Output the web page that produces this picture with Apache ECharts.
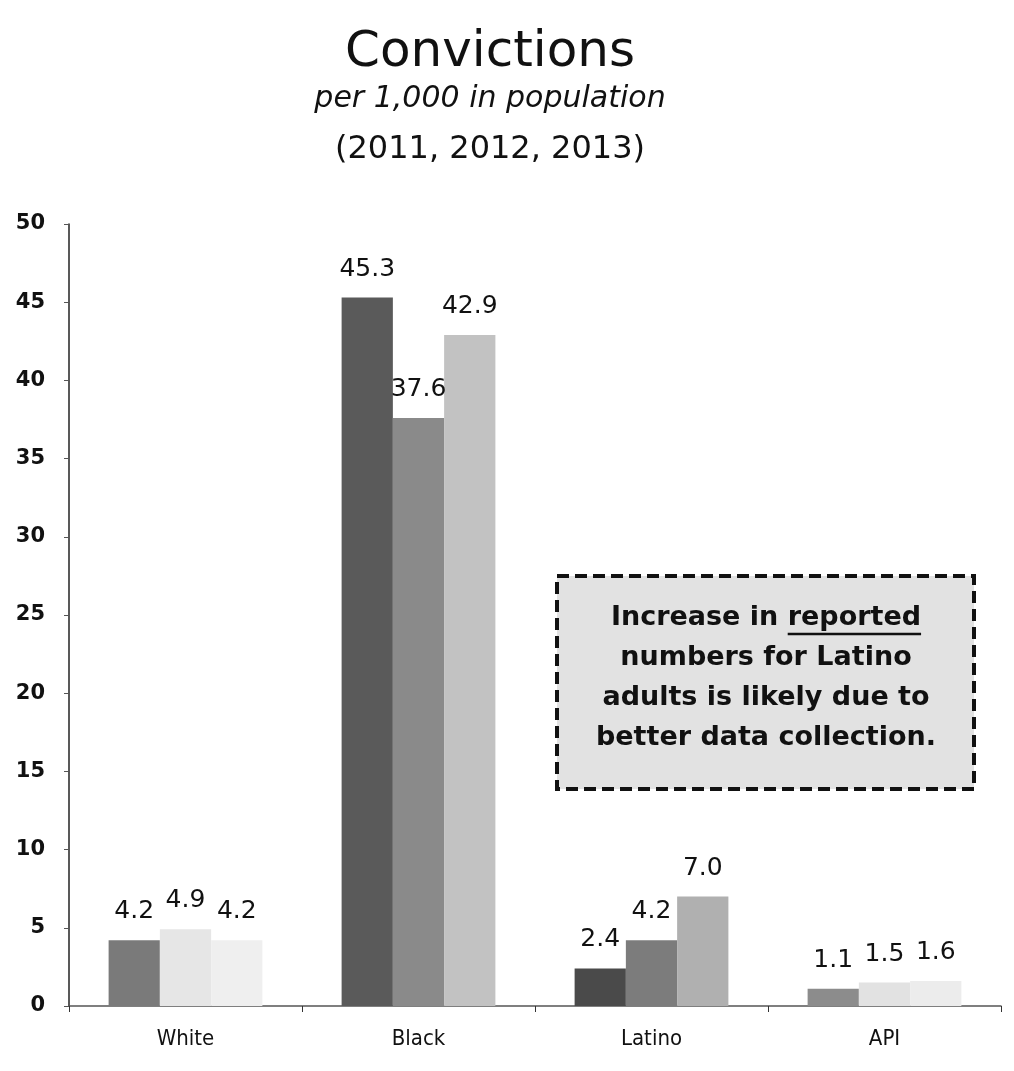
<!DOCTYPE html>
<html>
<head>
<meta charset="utf-8">
<script src="https://cdn.jsdelivr.net/npm/echarts@6/dist/echarts.min.js"></script>
<style>html,body{margin:0;padding:0;background:#fff}#c{width:1014px;height:1071px}</style>
</head>
<body>
<div id="c"></div>
<script>
const categories = ['White', 'Black', 'Latino', 'API'];
const years = ['2011', '2012', '2013'];
const values2011 = [4.2, 45.3, 2.4, 1.1];
const values2012 = [4.9, 37.6, 4.2, 1.5];
const values2013 = [4.2, 42.9, 7.0, 1.6];
const yTicks = [0, 5, 10, 15, 20, 25, 30, 35, 40, 45, 50];
const titleText = 'Convictions';
const subtitleText = 'per 1,000 in population';
const notePrefix = 'Increase in ';
const noteUnderlined = 'reported';
const noteLines = ['numbers for Latino', 'adults is likely due to', 'better data collection.'];

// shade per bar as it appears in the scanned halftone
const shades = [
  ['#7a7a7a', '#5a5a5a', '#4a4a4a', '#8c8c8c'],
  ['#e6e6e6', '#8a8a8a', '#7c7c7c', '#e2e2e2'],
  ['#efefef', '#c2c2c2', '#b0b0b0', '#ececec']
];

const FONT = '"DejaVu Sans", sans-serif';
const NOTE_FONT = 'bold 27px "DejaVu Sans"';
const cv = document.createElement('canvas').getContext('2d');
cv.font = NOTE_FONT;
const wPre = cv.measureText(notePrefix).width;
const wU = cv.measureText(noteUnderlined).width;
const noteCx = 766;
const uStart = noteCx - (wPre + wU) / 2 + wPre;

const chart = echarts.init(document.getElementById('c'));
const seriesVals = [values2011, values2012, values2013];

const noteStyle = { fontFamily: FONT, fontSize: 27, fontWeight: 'bold', fill: '#111', align: 'center', verticalAlign: 'middle' };

chart.setOption({
  backgroundColor: '#fff',
  animation: false,
  grid: { left: 69, right: 13, top: 224, bottom: 65, containLabel: false },
  xAxis: {
    type: 'category',
    data: categories,
    axisLine: { lineStyle: { color: '#555', width: 1.5 } },
    axisTick: { show: true, length: 6, lineStyle: { color: '#333' } },
    axisLabel: { fontFamily: '"DejaVu Sans Condensed", "DejaVu Sans", sans-serif', fontSize: 22, color: '#111', margin: 22 }
  },
  yAxis: {
    type: 'value',
    min: 0, max: 50, interval: 5,
    axisLine: { show: true, lineStyle: { color: '#222', width: 1.5 } },
    axisTick: { show: true, length: 5, lineStyle: { color: '#555' } },
    splitLine: { show: false },
    axisLabel: { fontFamily: FONT, fontSize: 21, color: '#111', margin: 24, fontWeight: 'bold',
      formatter: v => yTicks.includes(v) ? String(v) : '' }
  },
  series: seriesVals.map((vals, si) => ({
    name: years[si],
    type: 'bar',
    data: vals,
    barWidth: '22%',
    barGap: '0%',
    itemStyle: { color: p => shades[si][p.dataIndex] },
    label: { show: true, position: 'top', distance: 16, fontFamily: FONT, fontSize: 25, color: '#111',
      formatter: p => p.value.toFixed(1) }
  })),
  graphic: [
    { type: 'text', x: 490, y: 53, style: { text: titleText, fontFamily: FONT, fontSize: 50, fill: '#111', align: 'center', verticalAlign: 'middle' } },
    { type: 'text', x: 490, y: 99, style: { text: subtitleText, fontFamily: FONT, fontSize: 30, fontStyle: 'italic', fill: '#111', align: 'center', verticalAlign: 'middle' } },
    { type: 'text', x: 490, y: 150, style: { text: '(' + years.join(', ') + ')', fontFamily: FONT, fontSize: 32, fill: '#111', align: 'center', verticalAlign: 'middle' } },
    { type: 'rect', shape: { x: 557, y: 576, width: 417, height: 213 },
      style: { fill: '#e2e2e2', stroke: '#111', lineWidth: 4, lineDash: [12, 6] } },
    { type: 'text', x: noteCx, y: 618, style: Object.assign({ text: notePrefix + noteUnderlined }, noteStyle) },
    ...noteLines.map((t, i) => ({
      type: 'text', x: noteCx, y: 658 + i * 40,
      style: Object.assign({ text: t }, noteStyle)
    })),
    { type: 'line', shape: { x1: uStart, y1: 634, x2: uStart + wU, y2: 634 }, style: { stroke: '#111', lineWidth: 2.5 } }
  ]
});
</script>
</body>
</html>
